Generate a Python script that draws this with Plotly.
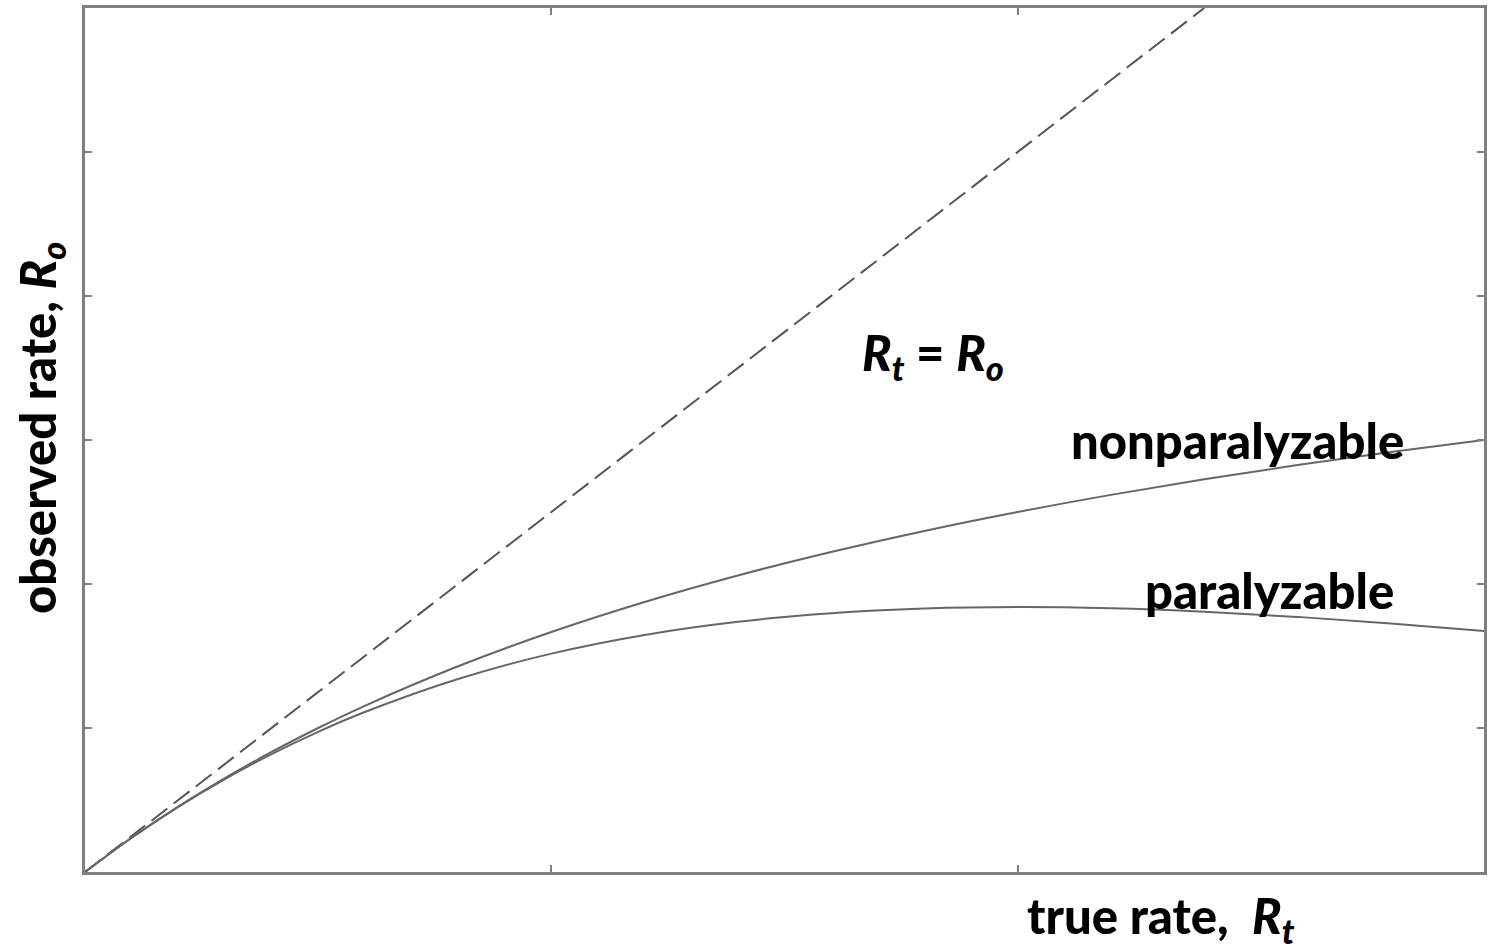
import plotly.graph_objects as go

# true rate samples and the observed rates read for each detector model
true_rate = [0, 0.5, 1, 1.5, 2, 2.5, 3, 4, 5, 6, 7, 8, 9, 10, 11, 12, 13, 14, 15]
nonparalyzable = [0, 0.476, 0.909, 1.304, 1.667, 2.0, 2.308, 2.857, 3.333, 3.75,
                  4.118, 4.444, 4.737, 5.0, 5.238, 5.455, 5.652, 5.833, 6.0]
paralyzable = [0, 0.476, 0.905, 1.291, 1.637, 1.947, 2.222, 2.681, 3.033, 3.293,
               3.476, 3.595, 3.659, 3.679, 3.662, 3.614, 3.543, 3.452, 3.347]
identity_x = [0, 12]
identity_y = [0, 12]

x_ticks = [5, 10]
y_ticks = [2, 4, 6, 8, 10]

FONT = "Lato"
line_col = "#666666"

fig = go.Figure()
fig.add_trace(go.Scatter(x=identity_x, y=identity_y, mode="lines",
                         line=dict(color="#555555", width=2, dash="20px,8px")))
fig.add_trace(go.Scatter(x=true_rate, y=nonparalyzable, mode="lines",
                         line=dict(color=line_col, width=2, shape="spline")))
fig.add_trace(go.Scatter(x=true_rate, y=paralyzable, mode="lines",
                         line=dict(color=line_col, width=2, shape="spline")))

axis_common = dict(showgrid=False, zeroline=False, showline=True, linecolor="#808080",
                   linewidth=2.5, mirror="allticks", ticks="inside", ticklen=7,
                   tickcolor="#808080", tickwidth=2, showticklabels=False)
fig.update_xaxes(range=[0, 15], tickvals=x_ticks, **axis_common)
fig.update_yaxes(range=[0, 12], tickvals=y_ticks, **axis_common)

txt = dict(family=FONT, size=49, color="black", weight=900)
fig.add_annotation(x=9.09, xref="x", y=7.18, yref="y", showarrow=False, font=txt,
                   text="<i>R</i><sub><i>t</i></sub> = <i>R</i><sub><i>o</i></sub>")
fig.add_annotation(x=12.36, xref="x", y=6.0, yref="y", showarrow=False, font=txt,
                   text="nonparalyzable")
fig.add_annotation(x=12.7, xref="x", y=3.92, yref="y", showarrow=False, font=txt,
                   text="paralyzable")
fig.add_annotation(x=(1163 - 85) / 1402, xref="paper", y=-0.0534, yref="paper",
                   xanchor="center", yanchor="middle", showarrow=False, font=txt,
                   text="true rate,  <i>R</i><sub><i>t</i></sub>")
fig.add_annotation(x=(40 - 85) / 1402, xref="paper", y=(872 - 428) / 864, yref="paper",
                   xanchor="center", yanchor="middle", showarrow=False, font=txt,
                   textangle=-90,
                   text="observed rate, <i>R</i><sub><i>o</i></sub>")

fig.update_layout(width=1489, height=951, showlegend=False,
                  paper_bgcolor="white", plot_bgcolor="white",
                  margin=dict(l=85, r=2, t=8, b=79))

fig.write_html("out.html")
